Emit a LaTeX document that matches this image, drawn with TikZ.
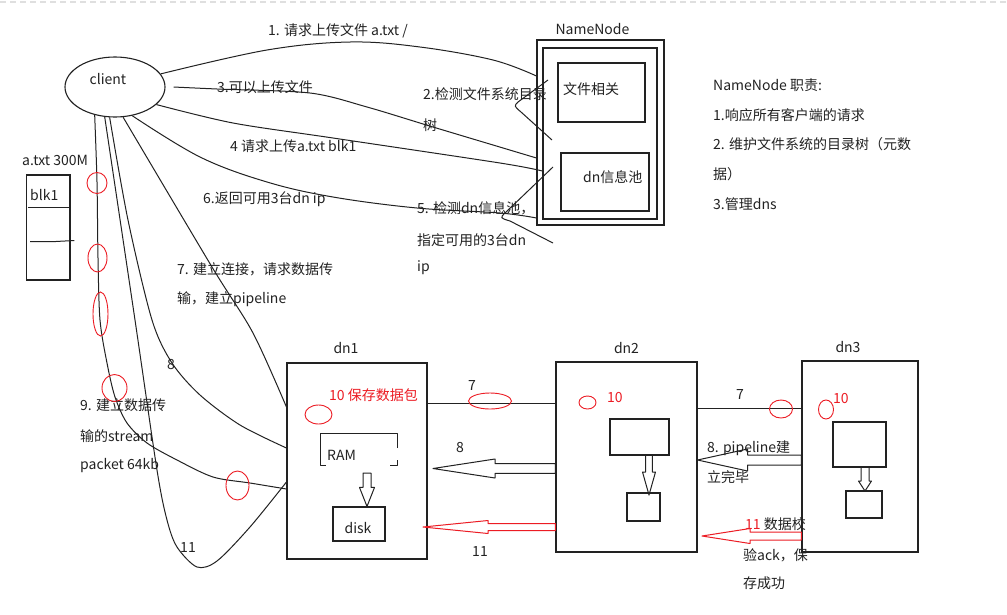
\documentclass[tikz,border=0pt]{standalone}
\usepackage{fontspec}
\setmainfont{Noto Sans CJK SC}
\usepackage{tikz}
\usetikzlibrary{shapes.geometric, calc, positioning}
\definecolor{markred}{RGB}{236,28,36}
\definecolor{ink}{RGB}{34,34,34}
\tikzset{
  % Boxes
  box/.style={rectangle, draw=ink, line width=1.1pt, inner sep=0pt},
  clientshape/.style={ellipse, draw=ink, line width=1.1pt, inner sep=0pt},
  ring/.style={ellipse, draw=markred, line width=0.9pt, inner sep=0pt},
  % Text
  txt/.style={inner sep=0pt, text=ink, font=\fontsize{14}{16}\selectfont},
  ltxt/.style={txt, anchor=west},
  rtxt/.style={ltxt, text=markred},
  % Connectors
  wire/.style={draw=ink, line width=1pt, line join=round},
  redwire/.style={draw=markred, line width=1pt, line join=round},
}
% hollow arrow: style, from, to, shaft half width, head half width, head length
\newcommand{\hollowarrow}[6]{%
  \coordinate (habase) at ($(#3)!#6!(#2)$);
  \draw[#1] ($(#2)!#4!90:(#3)$) -- ($(habase)!#4!90:(#3)$) -- ($(habase)!#5!90:(#3)$)
    -- (#3) -- ($(habase)!#5!-90:(#3)$) -- ($(habase)!#4!-90:(#3)$) -- ($(#2)!#4!-90:(#3)$) -- cycle;
}

\begin{document}
\begin{tikzpicture}[x=1pt, y=-1pt]
    \path[use as bounding box, fill=white] (0,0) rectangle (1007,614);
    \draw[gray!25, line width=1.5pt, dash pattern=on 6pt off 4pt] (0,2) -- (1007,2);

    % Client
    \node[clientshape, minimum width=100pt, minimum height=60pt] (client) at (115,87) {};
    \node[txt] (clientlbl) at (108,79) {client};

    % File and block
    \node[ltxt] (filelbl) at (22,160) {a.txt 300M};
    \node[box, minimum width=43.3pt, minimum height=105pt] (blkbox) at (48.3,227.5) {};
    \node[ltxt] (blk1) at (30,195) {blk1};
    \draw[wire] (28.3,207.3) -- (blkbox.east |- 0,207.3);
    \draw[wire] (30,241.7) -- (52,241.7) -- (74.3,240.5);

    % NameNode
    \node[box, minimum width=127pt, minimum height=185pt] (nnout) at (600.5,132.5) {};
    \node[box, minimum width=114pt, minimum height=171pt] (nnin) at (600,133.5) {};
    \node[txt, above=5pt of nnout, xshift=-8pt] (nnlbl) {NameNode};
    \node[box, minimum width=87pt, minimum height=59pt] (filebox) at (601.5,92.5) {};
    \node[ltxt] (filetxt) at (563,89) {文件相关};
    \node[box, minimum width=88pt, minimum height=58pt] (poolbox) at (605,182) {};
    \node[ltxt] (pooltxt) at (583,177) {dn信息池};

    % NameNode duties
    \node[ltxt] (duty0) at (713,85) {NameNode 职责:};
    \foreach \t [count=\i] in {1.响应所有客户端的请求, 2. 维护文件系统的目录树（元数, 据）, 3.管理dns}
      \node[ltxt] (duty\i) at (713,85+29.8*\i) {\t};

    % Client <-> NameNode
    \coordinate (nnA) at (nnout.west |- 0,76);
    \coordinate (nnC) at (nnout.west |- 0,158);
    \coordinate (nnD) at (nnin.west |- 0,171);
    \coordinate (nnF) at (nnout.west |- 0,218);
    \coordinate (c3s) at ($(client.east)+(8,0)$);
    \draw[wire] plot[smooth, tension=0.6] coordinates {(client.16) (267,50) (350,42) (420,47) (493,60) (nnA)};
    \draw[wire] plot[smooth, tension=0.5] coordinates {(c3s) (217,89) (310,93) (367,107) (433,127) (nnC)};
    \draw[wire] plot[smooth, tension=0.5] coordinates {(client.-23) (233,123) (333,138) (500,163) (nnD)};
    \draw[wire] plot[smooth, tension=0.6] coordinates {(client.-59) (200,157) (267,182) (333,197) (417,208) (500,213) (nnF)};
    \draw[wire] (548,80) -- (518,102) .. controls (514,106) .. (521,112) -- (552,140);
    \draw[wire] (553,167) -- (505,213) .. controls (500,218) .. (510,221) -- (553,243);

    \node[ltxt] (msg1) at (268,31) {1. 请求上传文件 a.txt /};
    \node[ltxt] (msg2) at (423,94) {2.检测文件系统目录};
    \node[ltxt] (msg2b) at (423,125) {树};
    \node[ltxt] (msg3) at (217,87) {3.可以上传文件};
    \node[ltxt] (msg4) at (230,146) {4 请求上传a.txt blk1};
    \node[ltxt] (msg5) at (417,208) {5. 检测dn信息池，};
    \node[ltxt] (msg5b) at (417,240) {指定可用的3台dn};
    \node[ltxt] (msg5c) at (417,268) {ip};
    \node[ltxt] (msg6) at (203,199) {6.返回可用3台dn ip};
    \node[ltxt] (msg7) at (177,269) {7. 建立连接，请求数据传};
    \node[ltxt] (msg7b) at (177,299) {输，建立pipeline};

    % DataNodes
    \node[box, minimum width=140pt, minimum height=196pt] (dn1) at (357,461) {};
    \node[box, minimum width=141pt, minimum height=190pt] (dn2) at (626.5,457) {};
    \node[box, minimum width=116pt, minimum height=191pt] (dn3) at (860,456.5) {};
    \node[txt, above=9pt of dn1, xshift=-11pt] (dn1lbl) {dn1};
    \node[txt, above=8pt of dn2] (dn2lbl) {dn2};
    \node[txt, above=8pt of dn3, xshift=-12pt] (dn3lbl) {dn3};

    % dn1 storage
    \draw[wire] (397,448) -- (397,433) -- (320.7,433) -- (320.7,465) -- (326,465);
    \draw[wire] (390,465) -- (397,465) -- (397,460);
    \node[ltxt] (ramtxt) at (327,455) {RAM};
    \node[box, minimum width=52pt, minimum height=34pt] (disk) at (359,524) {};
    \node[txt] (disktxt) at (358,528) {disk};
    \coordinate (ramout) at (367,473);
    \coordinate (disktop) at (ramout |- disk.north);
    \hollowarrow{wire}{ramout}{disktop}{4pt}{7.5pt}{19pt}

    % dn2 storage
    \node[box, minimum width=59pt, minimum height=36pt] (d2ram) at (639.5,437) {};
    \node[box, minimum width=33pt, minimum height=28pt] (d2disk) at (643.5,507) {};
    \coordinate (d2out) at (649,455);
    \coordinate (d2in) at (649,495);
    \hollowarrow{wire}{d2out}{d2in}{3.3pt}{6.5pt}{23pt}

    % dn3 storage
    \node[box, minimum width=53pt, minimum height=45pt] (d3ram) at (859.5,444.5) {};
    \node[box, minimum width=36pt, minimum height=27pt] (d3disk) at (864,504.5) {};
    \coordinate (d3out) at (865,467);
    \coordinate (d3in) at (865,491);
    \hollowarrow{wire}{d3out}{d3in}{4pt}{6.5pt}{10pt}

    % Client <-> dn1
    \coordinate (dnA) at (dn1.west |- 0,407);
    \coordinate (dnB) at (dn1.west |- 0,482);
    \coordinate (dnC) at (dn1.west |- 0,448);
    \coordinate (dnD) at (dn1.west |- 0,489);
    \draw[wire] plot[smooth, tension=0.5] coordinates {(client.-75) (212,267) (253,333) (dnA)};
    \draw[wire] plot[smooth, tension=0.5] coordinates {(client.-100) (128,220) (152,320) (172,363) (200,395) (240,425) (dnC)};
    \draw[wire] plot[smooth, tension=0.5] coordinates {(client.-109) (135,320) (157,470) (167,520) (177,547) (197,567) (217,561) (250,527) (dnB)};
    \draw[wire] plot[smooth, tension=0.5] coordinates {(client.-126) (97,182) (98,258) (100,320) (107,363) (115,397) (127,423) (147,443) (177,460) (213,477) (250,483) (dnD)};

    \node[txt] (lbl8) at (171,365) {8};
    \node[ltxt] (msg9) at (80,405) {9. 建立数据传};
    \node[ltxt] (msg9b) at (80,436) {输的stream};
    \node[ltxt] (msg9c) at (80,466) {packet 64kb};
    \node[txt] (lbl11) at (188,547) {11};

    % Pipeline dn1 -> dn2 -> dn3
    \draw[wire] (dn1.east |- 0,403) -- (dn2.west |- 0,403);
    \draw[wire] (dn2.east |- 0,408) -- (dn3.west |- 0,408);
    \node[txt] (p7a) at (472,386) {7};
    \node[txt] (p7b) at (740,395) {7};

    % Acks dn3 -> dn2 -> dn1
    \coordinate (a8s) at (dn2.west |- 0,468.5);
    \coordinate (a8e) at (433,468.5);
    \hollowarrow{wire}{a8s}{a8e}{4.8pt}{9.5pt}{62pt}
    \coordinate (b8s) at (dn3.west |- 0,460);
    \coordinate (b8e) at (dn2.east |- 0,460);
    \hollowarrow{wire}{b8s}{b8e}{5pt}{11pt}{50pt}
    \coordinate (a11s) at (dn2.west |- 0,527);
    \coordinate (a11e) at (423,527);
    \hollowarrow{redwire}{a11s}{a11e}{3.5pt}{6.5pt}{65pt}
    \coordinate (b11s) at (dn3.west |- 0,536);
    \coordinate (b11e) at (702,536);
    \hollowarrow{redwire}{b11s}{b11e}{4pt}{7.5pt}{48pt}

    \node[txt] (p8a) at (460,448) {8};
    \node[ltxt] (p8b) at (707,448) {8. pipeline建};
    \node[ltxt] (p8c) at (707,477) {立完毕};
    \node[txt] (p11a) at (480,551) {11};
    \node[ltxt] (p11b) at (745,524) {\textcolor{markred}{11} 数据校};
    \node[ltxt] (p11c) at (743,555) {验ack，保};
    \node[ltxt] (p11d) at (743,583) {存成功};

    % Saved packets
    \node[rtxt] (save1) at (329,395) {10 保存数据包};
    \node[rtxt] (save2) at (607,398) {10};
    \node[rtxt] (save3) at (833,399) {10};

    % Red marks
    \node[ring, minimum width=20pt, minimum height=21pt] (r1) at (97,183) {};
    \node[ring, minimum width=19pt, minimum height=28pt] (r2) at (97.5,258) {};
    \node[ring, minimum width=15pt, minimum height=44pt] (r3) at (100.5,314) {};
    \node[ring, minimum width=25pt, minimum height=27pt] (r4) at (114.5,388) {};
    \node[ring, minimum width=23pt, minimum height=29pt] (r5) at (237.5,485.5) {};
    \node[ring, minimum width=27pt, minimum height=19pt] (r6) at (318.5,414.5) {};
    \node[ring, minimum width=43pt, minimum height=16pt] (r7) at (490,401) {};
    \node[ring, minimum width=17pt, minimum height=13pt] (r8) at (587.5,402.5) {};
    \node[ring, minimum width=23pt, minimum height=18pt] (r9) at (781,409) {};
    \node[ring, minimum width=15pt, minimum height=19pt] (r10) at (826,409.5) {};
\end{tikzpicture}
\end{document}
